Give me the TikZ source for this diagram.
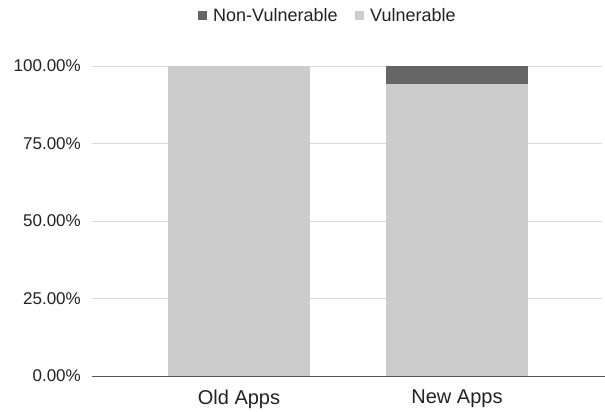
\documentclass[tikz,border=0pt]{standalone}
\usepackage{fontspec}
\setmainfont{Liberation Sans}
\usepackage{tikz}
\definecolor{darkbar}{HTML}{666666}
\definecolor{lightbar}{HTML}{CCCCCC}
\definecolor{gridgray}{HTML}{D9D9D9}
\definecolor{axisgray}{HTML}{555555}
\definecolor{txt}{HTML}{222222}
\begin{document}
\begin{tikzpicture}[x=1pt,y=1pt,
    ticklabel/.style={left,text=txt,font=\fontsize{17}{19}\selectfont,inner sep=0pt},
    catlabel/.style={text=txt,font=\fontsize{20}{22}\selectfont,inner sep=0pt},
    legendtext/.style={right,text=txt,font=\fontsize{18}{20}\selectfont,inner sep=0pt}]
        \useasboundingbox (0,0) rectangle (605,412);
        % grid lines
        \foreach \y/\t in {113.5/25.00\%,191/50.00\%,268.5/75.00\%,346/100.00\%} {
            \draw [gridgray] (92,\y)--(602,\y);
            \node [ticklabel] at(81,\y) {\t};
        }
        \node [ticklabel] at(81,36) {0.00\%};
        % bars
        \fill [lightbar] (168,36) rectangle (310,346);
        \fill [lightbar] (386,36) rectangle (528,328);
        \fill [darkbar] (386,328) rectangle (528,346);
        % axis
        \draw [axisgray] (92,36)--(605,36);
        \node [catlabel] at(239,13) {Old Apps};
        \node [catlabel] at(457,13) {New Apps};
        % legend
        \fill [darkbar] (198,392) rectangle (207,401);
        \node [legendtext] at(213,396.5) {Non-Vulnerable};
        \fill [lightbar] (355,392) rectangle (364,401);
        \node [legendtext] at(370,396.5) {Vulnerable};
    \end{tikzpicture}
\end{document}
